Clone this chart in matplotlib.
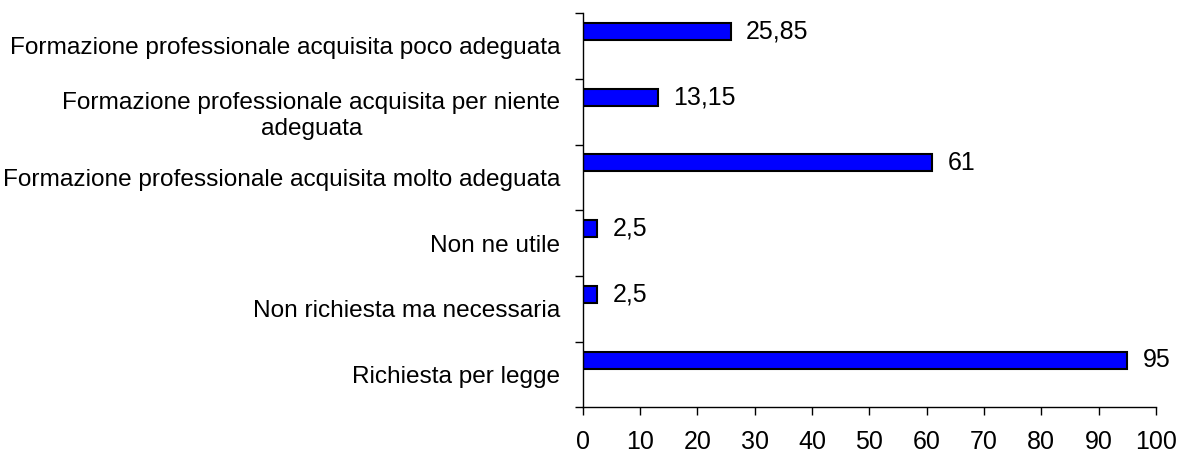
import matplotlib.pyplot as plt
import numpy as np

plt.rcParams['font.family'] = ['Liberation Sans', 'DejaVu Sans']

# Data (top to bottom as shown)
categories = ['Formazione professionale acquisita poco adeguata',
              'Formazione professionale acquisita per niente\nadeguata',
              'Formazione professionale acquisita molto adeguata',
              'Non ne utile',
              'Non richiesta ma necessaria',
              'Richiesta per legge']
values = [25.85, 13.15, 61, 2.5, 2.5, 95]
x_ticks = [0, 10, 20, 30, 40, 50, 60, 70, 80, 90, 100]

fig = plt.figure(figsize=(11.85, 4.55), dpi=100)
ax = fig.add_axes([0.4917, 0.1044, 0.9755 - 0.4917, 0.9714 - 0.1044])

pos = np.arange(len(categories))
ax.barh(pos - 0.22, values, height=0.26, color='#0000FF',
        edgecolor='black', linewidth=1.5)

# value labels with comma decimals
for p, v in zip(pos, values):
    lab = f'{v:g}'.replace('.', ',')
    ax.annotate(lab, (v, p - 0.22), xytext=(11, 0), textcoords='offset points',
                ha='left', va='center', fontsize=18)

ax.set_xlim(0, 100)
ax.set_ylim(len(categories) - 0.5, -0.5)
ax.set_xticks(x_ticks)
ax.set_xticklabels([str(t) for t in x_ticks], fontsize=18)

# ticks at category boundaries, labels at centres
ax.set_yticks(np.arange(len(categories) + 1) - 0.5)
ax.set_yticklabels([])
ax.set_yticks(pos, minor=True)
ax.set_yticklabels(categories, minor=True, fontsize=17.6, multialignment='center')
ax.tick_params(axis='y', which='minor', length=0, pad=16)
ax.tick_params(axis='y', which='major', length=5.5, width=1, direction='out')
ax.tick_params(axis='x', length=5.5, width=1, direction='out', pad=11)

for s in ['top', 'right']:
    ax.spines[s].set_visible(False)
for s in ['left', 'bottom']:
    ax.spines[s].set_linewidth(1)

plt.savefig('out.png', dpi=100)
